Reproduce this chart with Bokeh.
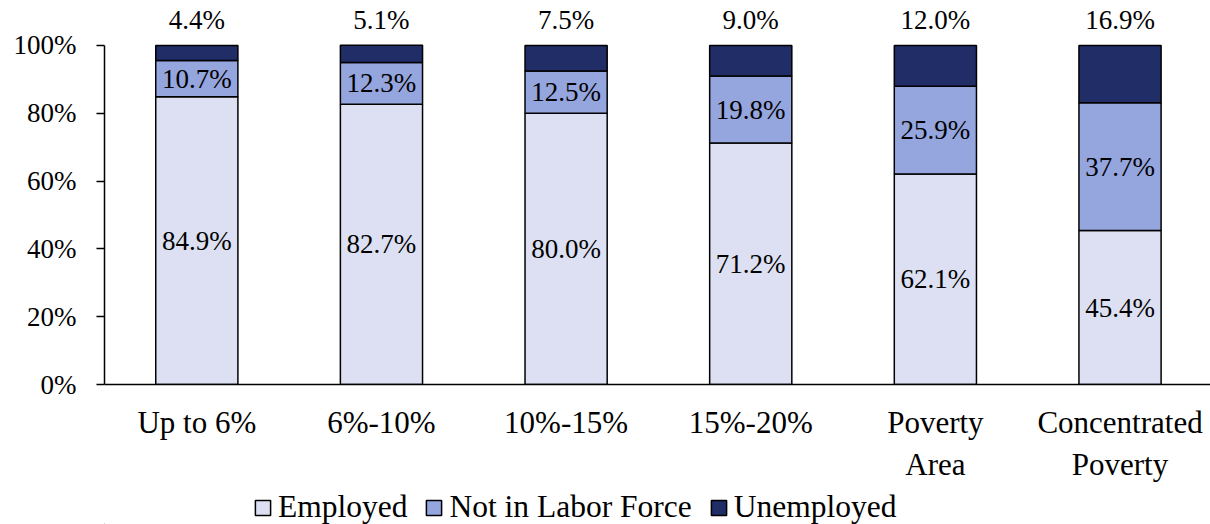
from bokeh.plotting import figure
from bokeh.layouts import column
from bokeh.models import Range1d, NumeralTickFormatter, FixedTicker, ColumnDataSource, Legend
from bokeh.core.properties import value
from bokeh.embed import file_html
from bokeh.resources import INLINE

categories = ["Up to 6%", "6%-10%", "10%-15%", "15%-20%", "Poverty\nArea", "Concentrated\nPoverty"]
employed = [84.9, 82.7, 80.0, 71.2, 62.1, 45.4]
not_in_lf = [10.7, 12.3, 12.5, 19.8, 25.9, 37.7]
unemployed = [4.4, 5.1, 7.5, 9.0, 12.0, 16.9]
series_names = ["Employed", "Not in Labor Force", "Unemployed"]

FONT = "'Liberation Serif', 'Times New Roman', serif"
colors = ["#dce0f2", "#95a5de", "#202d67"]

xs = [i + 0.5 for i in range(len(categories))]
src = ColumnDataSource(dict(
    x=xs,
    Employed=[v / 100 for v in employed],
    NILF=[v / 100 for v in not_in_lf],
    Unemployed=[v / 100 for v in unemployed],
))

p = figure(width=1210, height=484, output_backend="svg", toolbar_location=None,
           x_range=Range1d(0, 5.99), y_range=Range1d(0, 1.1327),
           min_border_left=104, min_border_right=0, min_border_top=0, min_border_bottom=100)
p.outline_line_color = None
p.xgrid.grid_line_color = None
p.ygrid.grid_line_color = None

rs = p.vbar_stack(["Employed", "NILF", "Unemployed"], x="x", width=0.445, source=src,
                  fill_color=colors, line_color="black", line_width=1.5)

# labels
e_y = [v / 200 for v in employed]
n_y = [(e + n / 2) / 100 for e, n in zip(employed, not_in_lf)]
u_y = [(e + n + u) / 100 for e, n, u in zip(employed, not_in_lf, unemployed)]
lab = ColumnDataSource(dict(
    x=xs * 2,
    y=e_y + n_y,
    t=[f"{v:.1f}%" for v in employed] + [f"{v:.1f}%" for v in not_in_lf],
))
p.text(x="x", y="y", text="t", source=lab, text_font=value(FONT), text_font_size="27px",
       text_align="center", text_baseline="middle", text_color="black")
top = ColumnDataSource(dict(x=xs, y=u_y, t=[f"{v:.1f}%" for v in unemployed]))
p.text(x="x", y="y", text="t", source=top, text_font=value(FONT), text_font_size="27px",
       text_align="center", text_baseline="middle", text_color="black", y_offset=-25)

# axes
p.yaxis.bounds = (0, 1)
p.yaxis.ticker = FixedTicker(ticks=[0, 0.2, 0.4, 0.6, 0.8, 1.0])
p.yaxis.formatter = NumeralTickFormatter(format="0%")
p.yaxis.minor_tick_line_color = None
p.yaxis.major_tick_out = 8
p.yaxis.major_tick_in = 0
p.yaxis.major_tick_line_width = 1.5
p.yaxis.axis_line_width = 1.5
p.yaxis.axis_line_color = "black"
p.yaxis.major_tick_line_color = "black"
p.yaxis.major_label_standoff = 20
p.yaxis.major_label_text_font = FONT
p.yaxis.major_label_text_font_size = "27px"
p.yaxis.major_label_text_color = "black"

p.xaxis.ticker = FixedTicker(ticks=xs)
p.xaxis.major_label_overrides = {x: c for x, c in zip(xs, categories)}
p.xaxis.major_tick_line_color = None
p.xaxis.minor_tick_line_color = None
p.xaxis.major_tick_out = 0
p.xaxis.major_tick_in = 0
p.xaxis.axis_line_width = 1.5
p.xaxis.axis_line_color = "black"
p.xaxis.major_label_standoff = 20
p.xaxis.major_label_text_font = FONT
p.xaxis.major_label_text_font_size = "31px"
p.xaxis.major_label_text_color = "black"

# legend strip
p2 = figure(width=1210, height=40, output_backend="svg", toolbar_location=None,
            x_range=Range1d(0, 1), y_range=Range1d(0, 1),
            min_border_left=0, min_border_right=0, min_border_top=0, min_border_bottom=0,
            x_axis_type=None, y_axis_type=None)
p2.outline_line_color = None
p2.xgrid.grid_line_color = None
p2.ygrid.grid_line_color = None
dummies = [p2.vbar(x=[-5], top=[0], width=0.1, fill_color=c, line_color="black", line_width=1.5)
           for c in colors]
leg = Legend(items=[(n, [r]) for n, r in zip(series_names, dummies)],
             orientation="horizontal", location=(149, -1))
leg.border_line_color = None
leg.background_fill_alpha = 0
leg.padding = 0
leg.margin = 0
leg.spacing = 17
leg.glyph_width = 19
leg.glyph_height = 19
leg.label_standoff = 6
leg.label_text_font = FONT
leg.label_text_font_size = "31.5px"
leg.label_text_color = "black"
p2.add_layout(leg, "center")

open("out.html", "w").write(file_html(column(p, p2, spacing=0), INLINE))
